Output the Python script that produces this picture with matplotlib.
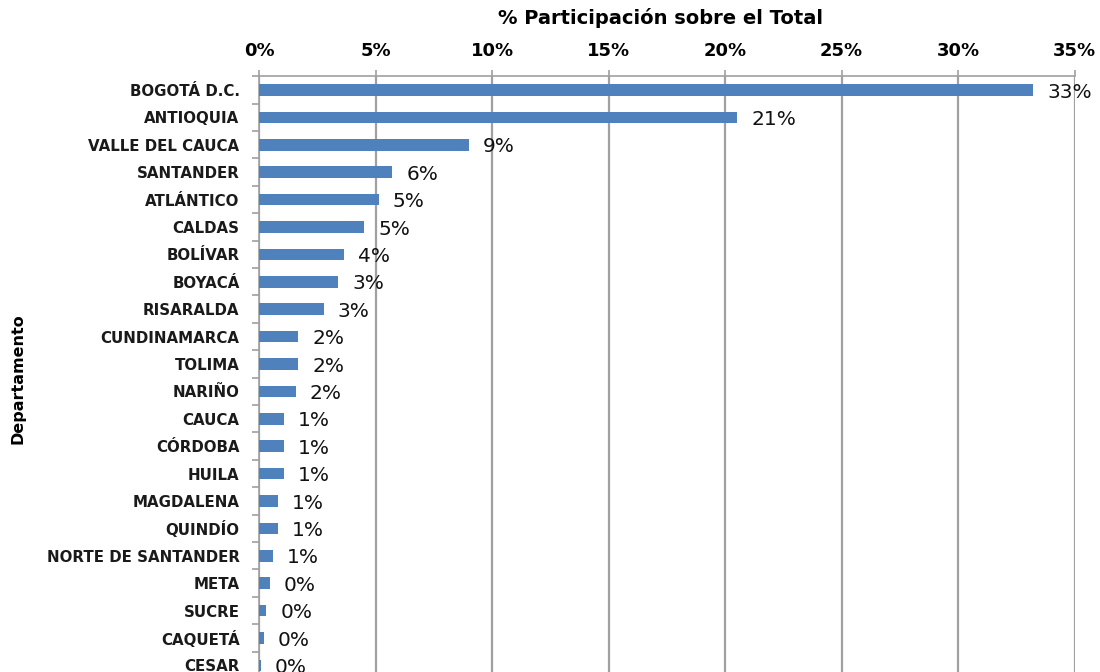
import matplotlib
matplotlib.use("Agg")
import matplotlib.pyplot as plt
from matplotlib.ticker import FixedLocator, FuncFormatter

departamentos = ["BOGOTÁ D.C.", "ANTIOQUIA", "VALLE DEL CAUCA", "SANTANDER", "ATLÁNTICO",
                 "CALDAS", "BOLÍVAR", "BOYACÁ", "RISARALDA", "CUNDINAMARCA", "TOLIMA",
                 "NARIÑO", "CAUCA", "CÓRDOBA", "HUILA", "MAGDALENA", "QUINDÍO",
                 "NORTE DE SANTANDER", "META", "SUCRE", "CAQUETÁ", "CESAR"]
participacion = [33.22, 20.52, 9.0, 5.72, 5.14, 4.52, 3.65, 3.41, 2.78, 1.69, 1.69,
                 1.58, 1.09, 1.09, 1.09, 0.83, 0.83, 0.58, 0.46, 0.32, 0.21, 0.09]
x_ticks = [0, 5, 10, 15, 20, 25, 30, 35]

BAR = "#4F81BD"
GRID = "#A0A0A0"
FONT = ["DejaVu Sans"]

fig = plt.figure(figsize=(11, 6.72), dpi=100)
W, H = 1100, 672
left, right = 259, 1074.6
top = 76.3
row = 27.4
n = len(departamentos)
bottom = top + n * row
ax = fig.add_axes([left / W, (H - bottom) / H, (right - left) / W, n * row / H])

ypos = list(range(n))
ax.barh(ypos, participacion, height=0.42, color=BAR, zorder=3)

ax.set_xlim(0, 35)
ax.set_ylim(n - 0.5, -0.5)
ax.xaxis.set_major_locator(FixedLocator(x_ticks))
ax.xaxis.set_major_formatter(FuncFormatter(lambda v, p: f"{v:.0f}%"))
ax.xaxis.tick_top()
ax.grid(axis="x", color=GRID, linewidth=1.6, zorder=0)
ax.tick_params(axis="x", which="major", top=True, bottom=False, length=4.5, width=1.2,
               color=GRID, pad=7.5, labelsize=13)
for lbl in ax.get_xticklabels():
    lbl.set_fontweight("bold")
    lbl.set_family(FONT)

ax.set_yticks(ypos)
ax.set_yticklabels(departamentos, fontsize=10.8, fontweight="bold", family=FONT,
                   color="#1a1a1a")
ax.set_yticks([i + 0.5 for i in range(-1, n)], minor=True)
ax.tick_params(axis="y", which="major", length=0, pad=14)
ax.tick_params(axis="y", which="minor", length=5, width=1.2, color=GRID)

for s in ["right", "bottom"]:
    ax.spines[s].set_visible(False)
for s in ["top", "left"]:
    ax.spines[s].set_color(GRID)
    ax.spines[s].set_linewidth(1.2)

fig.text(660 / W, 1 - 18 / H, "% Participación sobre el Total", ha="center", va="center",
         fontsize=14, fontweight="bold", family=FONT)
fig.text(18 / W, 1 - 379 / H, "Departamento", rotation=90, ha="center", va="center",
         fontsize=11.5, fontweight="bold", family=["Liberation Sans Narrow", "DejaVu Sans"])

for y, v in zip(ypos, participacion):
    ax.annotate(f"{v:.0f}%", xy=(v, y), xytext=(10, -1.5), textcoords="offset points",
                ha="left", va="center", fontsize=14.5, family=FONT, color="#111111",
                zorder=4, annotation_clip=False)

fig.savefig("out.png", dpi=100)
